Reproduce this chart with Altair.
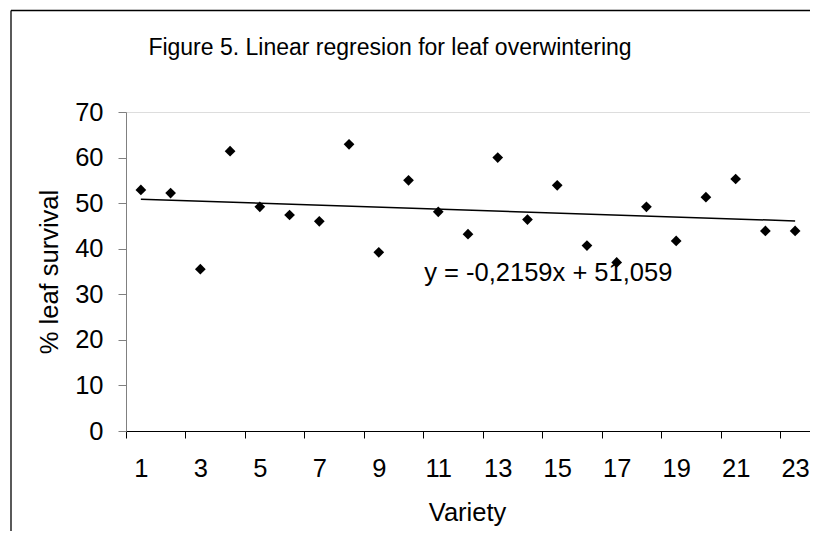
import altair as alt
import pandas as pd

variety = list(range(1, 24))
survival = [52.9, 52.2, 35.5, 61.4, 49.2, 47.4, 46.0, 62.9, 39.2, 55.0, 48.1, 43.2,
            60.0, 46.4, 53.9, 40.7, 37.0, 49.2, 41.7, 51.3, 55.3, 43.9, 43.9]

slope = -0.2159
intercept = 51.059
eq_text = ["y = -0,2159x + 51,059"]
eq_x = [14.7]
eq_y = [34.7]
title_text = ["Figure 5. Linear regresion for leaf overwintering"]

x_ticks = [i + 0.5 for i in range(0, 24)]
y_ticks = [0, 10, 20, 30, 40, 50, 60, 70]

FONT = "Liberation Sans"
FS = 25.5
W = 684
H = 319

pts = pd.DataFrame({"Variety": variety, "Survival": survival})
line_df = pd.DataFrame({"Variety": [variety[0], variety[-1]]})
line_df["Survival"] = intercept + slope * line_df["Variety"]
eq_df = pd.DataFrame({"x": eq_x, "y": eq_y, "t": eq_text})
title_df = pd.DataFrame({"t": title_text})

x_scale = alt.Scale(domain=[0.5, 23.5], nice=False, zero=False)
y_scale = alt.Scale(domain=[0, 70], nice=False)

x_axis = alt.Axis(
    values=x_ticks,
    title="Variety",
    labelExpr="datum.value % 2 == 0.5 ? format(datum.value + 0.5, 'd') : ''",
    labelOffset=W / 46,
    labelFlush=False,
    labelOverlap=False,
    labelBound=False,
    grid=False,
    tickSize=7,
    tickColor="#000000",
    domainColor="#000000",
    labelFont=FONT,
    labelFontSize=FS,
    labelColor="#000000",
    labelPadding=18,
    titleFont=FONT,
    titleFontSize=FS,
    titleFontWeight="normal",
    titleColor="#000000",
    titleX=341,
    titleY=81,
    titleBaseline="middle",
    titleAlign="center",
)

y_axis = alt.Axis(
    values=y_ticks,
    title="% leaf survival",
    grid=False,
    tickSize=8,
    tickColor="#808080",
    domainColor="#808080",
    labelFont=FONT,
    labelFontSize=FS,
    labelColor="#000000",
    labelPadding=15,
    labelFlush=False,
    labelOverlap=False,
    titleFont=FONT,
    titleFontSize=FS,
    titleFontWeight="normal",
    titleColor="#000000",
    titleX=-77,
    titleY=159.5,
    titleBaseline="middle",
    titleAlign="center",
    titleAngle=270,
)

one = alt.Data(values=[{}])
border_left = alt.Chart(one).mark_rule(color="#000000", strokeWidth=1.3).encode(
    x=alt.value(-115), y=alt.value(-101.5), y2=alt.value(700)
)
border_top = alt.Chart(one).mark_rule(color="#000000", strokeWidth=1.3).encode(
    x=alt.value(-115), x2=alt.value(W + 10), y=alt.value(-101.5)
)

title = alt.Chart(title_df).mark_text(
    font=FONT, fontSize=23, color="#000000", align="center", baseline="middle"
).encode(
    x=alt.value(264), y=alt.value(-64), text="t:N"
)

points = alt.Chart(pts).mark_point(
    shape="diamond", filled=True, color="#000000", size=115, opacity=1
).encode(
    x=alt.X("Variety:Q", scale=x_scale, axis=x_axis),
    y=alt.Y("Survival:Q", scale=y_scale, axis=y_axis),
)

trend = alt.Chart(line_df).mark_line(color="#000000", strokeWidth=1.5).encode(
    x=alt.X("Variety:Q", scale=x_scale),
    y=alt.Y("Survival:Q", scale=y_scale),
)

eq = alt.Chart(eq_df).mark_text(
    font=FONT, fontSize=FS, color="#000000", align="center", baseline="middle"
).encode(
    x=alt.X("x:Q", scale=x_scale),
    y=alt.Y("y:Q", scale=y_scale),
    text="t:N",
)

chart = alt.layer(border_left, border_top, title, points, trend, eq).properties(
    width=W,
    height=H,
    autosize=alt.AutoSizeParams(type="none"),
    padding={"left": 118, "top": 104, "right": 0, "bottom": 100},
).configure_view(stroke=None).configure(background="white")

chart.save("out.html", embed_options={"renderer": "svg", "actions": False})
